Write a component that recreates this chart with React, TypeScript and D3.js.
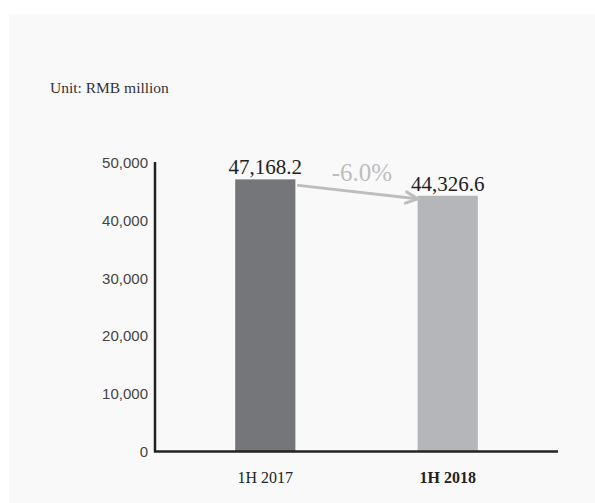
import React from "react";
import * as d3 from "d3";

const categories = ["1H 2017", "1H 2018"];
const values = [47168.2, 44326.6];
const valueLabels = ["47,168.2", "44,326.6"];
const yTicks = [0, 10000, 20000, 30000, 40000, 50000];
const changeLabel = "-6.0%";
const unitLabel = "Unit: RMB million";
const barColors = ["#757679", "#b5b6b9"];

export default function App() {
  const W = 595;
  const H = 503;
  const y = d3.scaleLinear().domain([0, 50000]).range([452, 163]);
  const x = d3.scaleBand().domain(categories).range([175, 538]).paddingInner(0.67).paddingOuter(0.33);
  const fmt = d3.format(",");
  const serif = "'Liberation Serif', 'Times New Roman', serif";
  const sans = "'Liberation Sans', Helvetica, Arial, sans-serif";

  const bw = x.bandwidth();
  const x0 = (x(categories[0]) as number) + bw;
  const x1 = x(categories[1]) as number;
  const ay0 = y(values[0]) + 6;
  const ay1 = y(values[1]) + 3;
  const ang = Math.atan2(ay1 - ay0, x1 - x0);
  const al = 13;
  const spread = 0.45;
  const tipX = x1;
  const tipY = ay1;
  const armA = [tipX - al * Math.cos(ang - spread), tipY - al * Math.sin(ang - spread)];
  const armB = [tipX - al * Math.cos(ang + spread), tipY - al * Math.sin(ang + spread)];

  return (
    <svg width={W} height={H} style={{ position: "absolute", left: 0, top: 0 }}>
      <rect x={0} y={0} width={W} height={H} fill="#ffffff" />
      <rect x={9} y={14} width={W - 9} height={H - 14} fill="#f9f9f9" />
      <text x={50} y={93} fontFamily={serif} fontSize={15.5} fill="#333">{unitLabel}</text>

      {yTicks.map((t) => (
        <text key={t} x={148} y={y(t) + 5} textAnchor="end" fontFamily={sans} fontSize={15} fill="#444">
          {fmt(t)}
        </text>
      ))}

      {categories.map((c, i) => (
        <g key={c}>
          <rect x={x(c)} y={y(values[i])} width={bw} height={y(0) - y(values[i])} fill={barColors[i]} />
          <text
            x={(x(c) as number) + bw / 2}
            y={y(values[i]) - 5}
            textAnchor="middle"
            fontFamily={serif}
            fontSize={21}
            fill="#222"
          >
            {valueLabels[i]}
          </text>
          <text
            x={(x(c) as number) + bw / 2}
            y={483}
            textAnchor="middle"
            fontFamily={serif}
            fontSize={16}
            fontWeight={i === 1 ? "bold" : "normal"}
            fill="#222"
          >
            {c}
          </text>
        </g>
      ))}

      <line x1={155} y1={162} x2={155} y2={452} stroke="#222" strokeWidth={2.5} />
      <line x1={154} y1={451.5} x2={558} y2={451.5} stroke="#222" strokeWidth={2.5} />

      <g stroke="#bdbdbd" strokeWidth={3} fill="none" strokeLinecap="round">
        <line x1={x0 + 3} y1={ay0} x2={tipX - 1} y2={tipY} />
        <polyline points={`${armA[0]},${armA[1]} ${tipX},${tipY} ${armB[0]},${armB[1]}`} />
      </g>
      <text x={362} y={181} textAnchor="middle" fontFamily={serif} fontSize={25} fill="#bdbdbd">
        {changeLabel}
      </text>
    </svg>
  );
}
